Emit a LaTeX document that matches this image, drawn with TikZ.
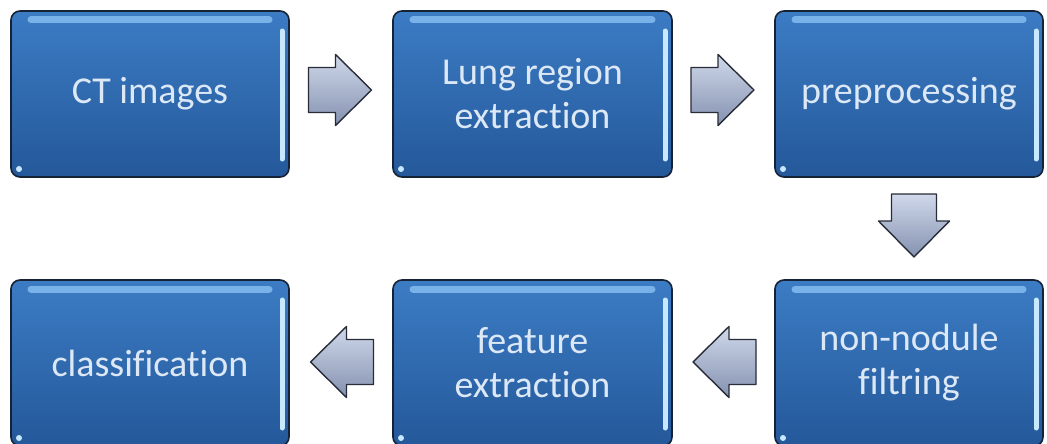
\documentclass[tikz,border=0pt]{standalone}
\usepackage{fontspec}
\setmainfont{Carlito}[Ligatures=NoCommon]
\usetikzlibrary{calc}
\definecolor{boxtop}{RGB}{60,124,196}
\definecolor{boxbot}{RGB}{36,88,154}
\definecolor{boxrim}{RGB}{22,34,54}
\definecolor{boxtext}{RGB}{220,232,245}
\definecolor{shine}{RGB}{120,178,232}
\definecolor{glint}{RGB}{200,232,255}
\definecolor{arrtop}{RGB}{208,216,234}
\definecolor{arrbot}{RGB}{132,146,176}
\definecolor{arrrim}{RGB}{40,44,56}
\tikzset{
  stage/.style={draw=boxrim, line width=1.6pt, rounded corners=9pt,
    top color=boxtop, bottom color=boxbot, text=boxtext, align=center,
    minimum width=278pt, minimum height=166pt,
    font=\fontsize{38}{44}\selectfont,
    path picture={
      \draw[shine, line width=7pt, line cap=round]
        ([xshift=20pt,yshift=-9pt]path picture bounding box.north west) --
        ([xshift=-20pt,yshift=-9pt]path picture bounding box.north east);
      \draw[glint, line width=5pt, line cap=round]
        ([xshift=-7pt,yshift=-20pt]path picture bounding box.north east) --
        ([xshift=-7pt,yshift=18pt]path picture bounding box.south east);
      \fill[glint] ([xshift=8pt,yshift=8pt]path picture bounding box.south west) circle (3pt);
    }},
  blockarrow/.pic={
    \draw[arrrim, line width=1.4pt, line join=round, top color=arrtop, bottom color=arrbot]
      (-31.5,-22.5) -- (-4.5,-22.5) -- (-4.5,-35.5) -- (31.5,0) --
      (-4.5,35.5) -- (-4.5,22.5) -- (-31.5,22.5) -- cycle;
  }
}
\begin{document}
\begin{tikzpicture}[x=1pt,y=1pt]
  \clip (0,0) rectangle (1047,-444);
  \fill[white] (0,0) rectangle (1047,-444);
  % top row
  \node[stage] (ct) at (150,-94) {CT images};
  \node[stage, minimum width=279pt] (lung) at (532.5,-94) {Lung region\\extraction};
  \node[stage, minimum width=268pt] (prep) at (909,-94) {preprocessing};
  % bottom row
  \node[stage] (cls) at (150,-363) {classification};
  \node[stage, minimum width=279pt] (feat) at (532.5,-363) {feature\\extraction};
  \node[stage, minimum width=268pt] (filt) at (909,-363) {non-nodule\\filtring};
  % arrows between stages
  \pic at ($(ct.east)!0.5!(lung.west)+(-1,4)$) {blockarrow};
  \pic at ($(lung.east)!0.5!(prep.west)+(-1,4)$) {blockarrow};
  \pic[rotate=-90] at ($(prep.south)!0.5!(filt.north)+(5,3)$) {blockarrow};
  \pic[rotate=180] at ($(filt.west)!0.5!(feat.east)+(1,1)$) {blockarrow};
  \pic[rotate=180] at ($(feat.west)!0.5!(cls.east)+(1,1)$) {blockarrow};
\end{tikzpicture}
\end{document}
